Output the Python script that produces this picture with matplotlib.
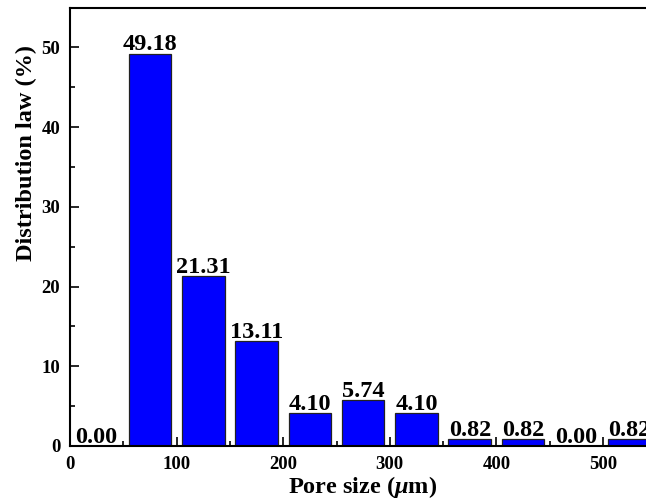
import matplotlib
matplotlib.use("Agg")
import matplotlib.pyplot as plt
from matplotlib.ticker import MultipleLocator

plt.rcParams['font.family'] = ['Liberation Serif', 'DejaVu Serif']
plt.rcParams['font.weight'] = 'bold'
plt.rcParams['mathtext.fontset'] = 'custom'
plt.rcParams['mathtext.it'] = 'Liberation Serif:italic:bold'
plt.rcParams['mathtext.rm'] = 'Liberation Serif:bold'

bin_centers = [25, 75, 125, 175, 225, 275, 325, 375, 425, 475, 525]
percent = [0.00, 49.18, 21.31, 13.11, 4.10, 5.74, 4.10, 0.82, 0.82, 0.00, 0.82]
labels = ["0.00", "49.18", "21.31", "13.11", "4.10", "5.74", "4.10", "0.82", "0.82", "0.00", "0.82"]

W, H = 646, 499
fig = plt.figure(figsize=(W / 100, H / 100), dpi=100)
px_per_unit = 1.066
x0, x1 = 70, 70 + 560 * px_per_unit
y0, y1 = 446.0, 7.5
ax = fig.add_axes([x0 / W, 1 - y0 / H, (x1 - x0) / W, (y0 - y1) / H])

ax.bar(bin_centers, percent, width=40, color='#0000FF', edgecolor='#222222', linewidth=0.9)
for xc, v, lab in zip(bin_centers, percent, labels):
    ax.annotate(lab, (xc, v), xytext=(0, 2.5), textcoords='offset points',
                ha='center', va='baseline', fontsize=17.5, fontweight='bold')

ax.set_xlim(0, 560)
ax.set_ylim(0, 55)
ax.xaxis.set_major_locator(MultipleLocator(100))
ax.xaxis.set_minor_locator(MultipleLocator(50))
ax.yaxis.set_major_locator(MultipleLocator(10))
ax.yaxis.set_minor_locator(MultipleLocator(5))
ax.tick_params(which='both', direction='in', top=False, right=False, width=1.2)
ax.tick_params(which='major', length=6.5, labelsize=13.5)
ax.tick_params(axis='y', which='major', pad=7)
ax.tick_params(axis='x', which='major', pad=7)
ax.tick_params(which='minor', length=3.5)
for s in ax.spines.values():
    s.set_linewidth(1.5)
for lab in ax.get_xticklabels() + ax.get_yticklabels():
    lab.set_fontweight('bold')

ax.set_xlabel(r'Pore size ($\mu$m)', fontsize=17.5, fontweight='bold')
ax.set_ylabel('Distribution law (%)', fontsize=17.5, fontweight='bold', labelpad=3)
ax.xaxis.set_label_coords((363 - x0) / (x1 - x0), -0.064)
ax.yaxis.label.set_y((y0 - 153) / (y0 - y1))

fig.savefig('out.png', dpi=100)
